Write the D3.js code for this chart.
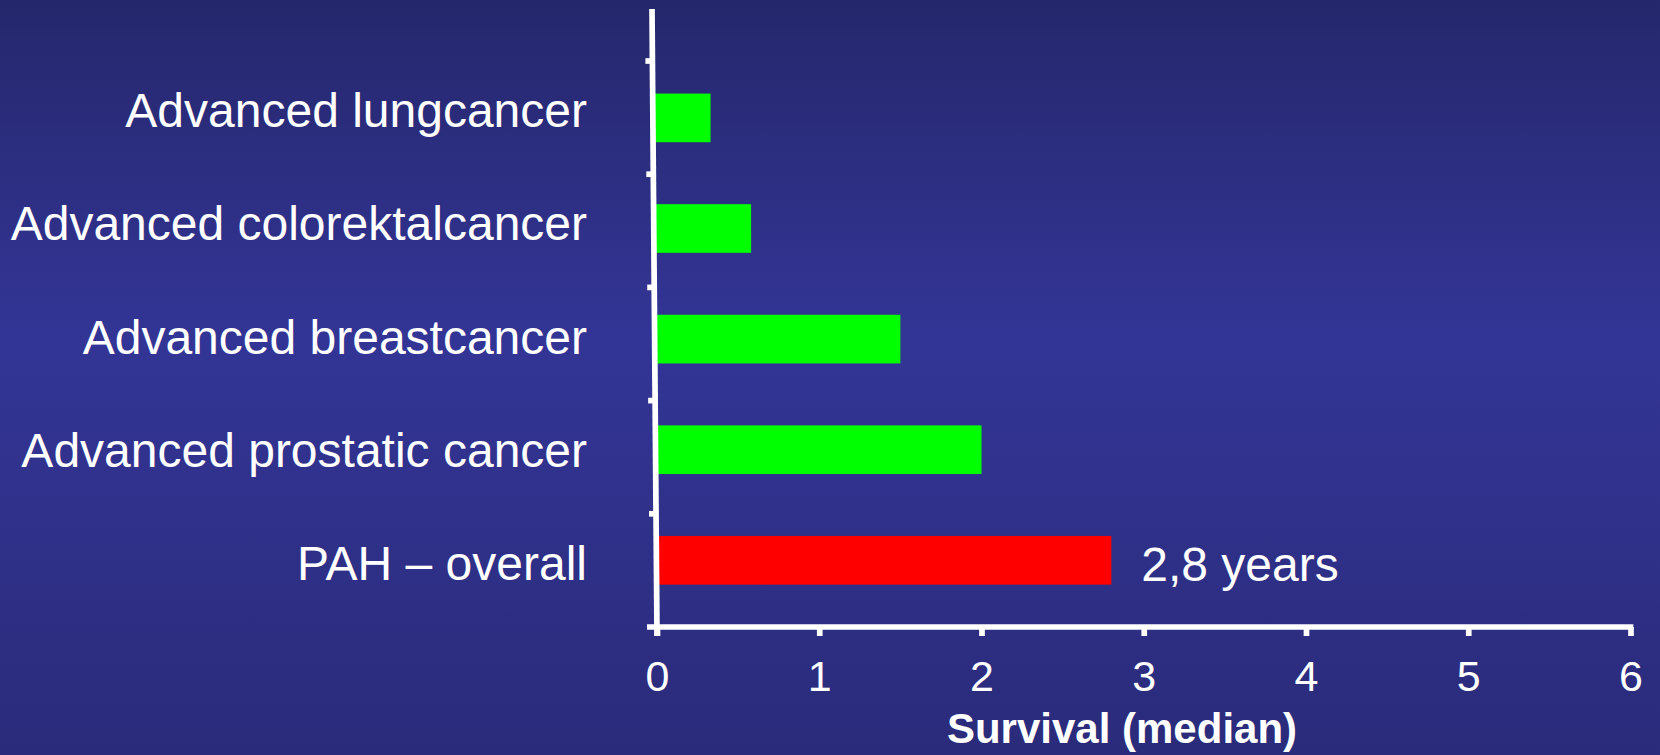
<!DOCTYPE html>
<html>
<head>
<meta charset="utf-8">
<script src="https://cdn.jsdelivr.net/npm/d3@7"></script>
<style>
  html, body { margin: 0; padding: 0; background: #2f3190; }
  svg { display: block; }
  text { font-family: "Liberation Sans", Arial, sans-serif; fill: #ffffff; }
</style>
</head>
<body>
<svg id="chart" width="1660" height="755"></svg>
<script>
// Median survival, in years
const categories = [
  "Advanced lungcancer",
  "Advanced colorektalcancer",
  "Advanced breastcancer",
  "Advanced prostatic cancer",
  "PAH \u2013 overall"
];
const survival = [0.33, 0.58, 1.5, 2.0, 2.8];
const barColors = ["#00ff00", "#00ff00", "#00ff00", "#00ff00", "#ff0000"];
const xTicks = [0, 1, 2, 3, 4, 5, 6];
const axisTitle = "Survival (median)";
const valueLabel = "2,8 years";
const labelledIndex = 4;

const W = 1660, H = 755;
const svg = d3.select("#chart");

// background gradient
const defs = svg.append("defs");
const grad = defs.append("linearGradient")
  .attr("id", "bg").attr("x1", 0).attr("y1", 0).attr("x2", 0).attr("y2", 1);
grad.append("stop").attr("offset", "0%").attr("stop-color", "#25276c");
grad.append("stop").attr("offset", "45%").attr("stop-color", "#333596");
grad.append("stop").attr("offset", "100%").attr("stop-color", "#2a2b7a");
svg.append("rect").attr("width", W).attr("height", H).attr("fill", "url(#bg)");

// scales
const x = d3.scaleLinear().domain([0, 6]).range([657, 1630.5]);
const yTickBand = d3.scaleBand().domain(categories).range([61, 627]);      // category slots / tick marks
const yBar = d3.scaleBand().domain(categories).range([62.6, 615.6])
  .paddingInner(0.56).paddingOuter(0.28);

const axisTop = 9, axisBottom = 636, slant = 5;
const axisX = y => x(0) - slant * (axisBottom - y) / (axisBottom - axisTop);
const lineW = 5.7;

// bars
svg.append("g").selectAll("rect")
  .data(categories)
  .join("rect")
  .attr("x", (d) => axisX(yBar(d) + yBar.bandwidth() / 2))
  .attr("y", d => yBar(d))
  .attr("width", (d, i) => x(survival[i]) - axisX(yBar(d) + yBar.bandwidth() / 2))
  .attr("height", yBar.bandwidth())
  .attr("fill", (d, i) => barColors[i]);

// value label on the PAH bar
svg.append("text")
  .attr("x", x(survival[labelledIndex]) + 30)
  .attr("y", 581)
  .attr("font-size", 48)
  .text(valueLabel);

// category labels
svg.append("g").selectAll("text")
  .data(categories)
  .join("text")
  .attr("x", 587)
  .attr("y", d => yTickBand(d) + yTickBand.bandwidth() / 2 + 9.5)
  .attr("text-anchor", "end")
  .attr("font-size", 48)
  .text(d => d);

// x axis
const xAxis = d3.axisBottom(x)
  .tickValues(xTicks)
  .tickSize(9)
  .tickSizeOuter(0)
  .tickPadding(24)
  .tickFormat(d => d);
const gx = svg.append("g").attr("transform", `translate(0,627)`).call(xAxis);
gx.select(".domain").remove();
gx.selectAll(".tick line").attr("stroke", "#fff").attr("stroke-width", lineW);
gx.selectAll(".tick text")
  .attr("fill", "#fff")
  .attr("font-size", 43)
  .attr("font-family", "Liberation Sans, Arial, sans-serif");
gx.insert("line", ":first-child")
  .attr("x1", x(0) - 10).attr("x2", x(6) + lineW / 2)
  .attr("y1", 0).attr("y2", 0)
  .attr("stroke", "#fff").attr("stroke-width", lineW);

// y axis (slightly leaning line with tick marks at slot edges)
const yTickPos = categories.map(c => yTickBand(c));
svg.append("g").selectAll("line")
  .data(yTickPos)
  .join("line")
  .attr("x1", y => axisX(y) - 7)
  .attr("x2", y => axisX(y))
  .attr("y1", y => y).attr("y2", y => y)
  .attr("stroke", "#fff").attr("stroke-width", lineW);
svg.append("line")
  .attr("x1", axisX(axisTop)).attr("y1", axisTop)
  .attr("x2", axisX(axisBottom)).attr("y2", axisBottom)
  .attr("stroke", "#fff").attr("stroke-width", lineW);

// axis title
svg.append("text")
  .attr("x", 1122)
  .attr("y", 743)
  .attr("text-anchor", "middle")
  .attr("font-size", 42)
  .attr("font-weight", "bold")
  .text(axisTitle);
</script>
</body>
</html>
